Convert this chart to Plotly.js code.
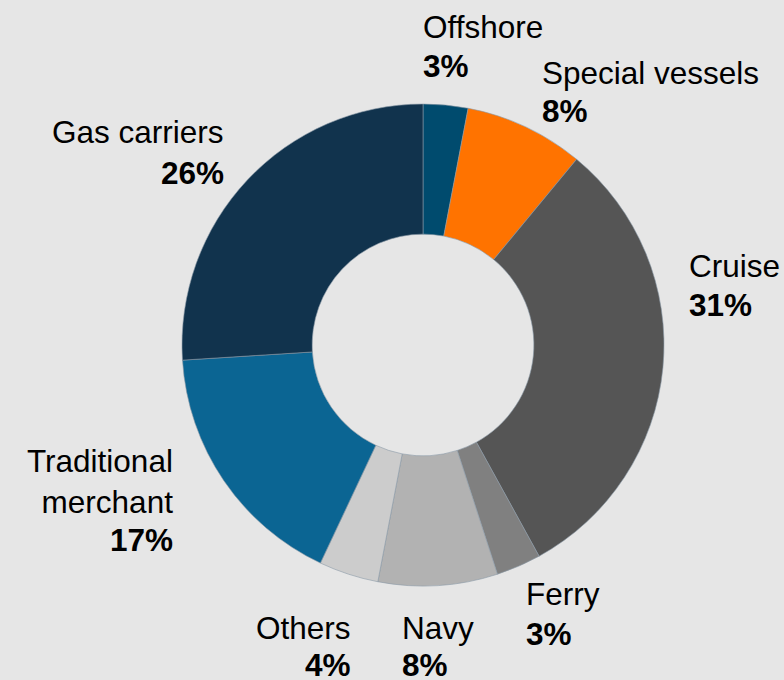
<!DOCTYPE html>
<html>
<head>
<meta charset="utf-8">
<script src="https://cdn.plot.ly/plotly-3.0.1.min.js"></script>
<style>html,body{margin:0;padding:0;background:#e6e6e6;}</style>
</head>
<body>
<div id="chart" style="width:784px;height:680px;"></div>
<script>
// Data
const categories = ["Offshore", "Special vessels", "Cruise", "Ferry", "Navy", "Others", "Traditional merchant", "Gas carriers"];
const labelText = ["Offshore", "Special vessels", "Cruise", "Ferry", "Navy", "Others", "Traditional<br>merchant", "Gas carriers"];
const shares = [3, 8, 31, 3, 8, 4, 17, 26];
const sliceColors = ["#004b6e", "#ff7300", "#555555", "#808080", "#b2b2b2", "#cccccc", "#0b6593", "#11334d"];

// Label placement (paper pixels): anchor x, name-line centre y, percent-line centre y, anchor side
const labelX = [421, 540, 687, 524, 400, 353, 175, 226];
const nameY = [27.5, 73, 266, 594, 628, 628, 481.5, 132];
const pctY = [66.5, 111, 305, 634, 665, 665, 540, 173];
const labelAnchor = ["left", "left", "left", "left", "left", "right", "right", "right"];

const W = 784, H = 680;
const FONT = "Liberation Sans, Arial, sans-serif";
const FS = 31.5;

const annotations = [];
categories.forEach((c, i) => {
  const base = {
    xref: "paper", yref: "paper",
    x: labelX[i] / W,
    xanchor: labelAnchor[i], yanchor: "middle",
    align: labelAnchor[i],
    showarrow: false,
    font: {family: FONT, size: FS, color: "#000000"}
  };
  annotations.push(Object.assign({}, base, {y: 1 - nameY[i] / H, text: labelText[i]}));
  annotations.push(Object.assign({}, base, {y: 1 - pctY[i] / H, text: "<b>" + shares[i] + "%</b>"}));
});

const trace = {
  type: "pie",
  labels: categories,
  values: shares,
  hole: 0.46,
  sort: false,
  direction: "clockwise",
  rotation: 0,
  textinfo: "none",
  hoverinfo: "label+percent",
  marker: {colors: sliceColors, line: {color: "#8a98a6", width: 0.6}},
  domain: {x: [182 / W, 664 / W], y: [1 - 586 / H, 1 - 104 / H]}
};

const layout = {
  width: W, height: H,
  margin: {l: 0, r: 0, t: 0, b: 0},
  paper_bgcolor: "#e6e6e6",
  plot_bgcolor: "#e6e6e6",
  showlegend: false,
  font: {family: FONT},
  annotations: annotations
};

Plotly.newPlot("chart", [trace], layout, {displayModeBar: false, staticPlot: true});
</script>
</body>
</html>
